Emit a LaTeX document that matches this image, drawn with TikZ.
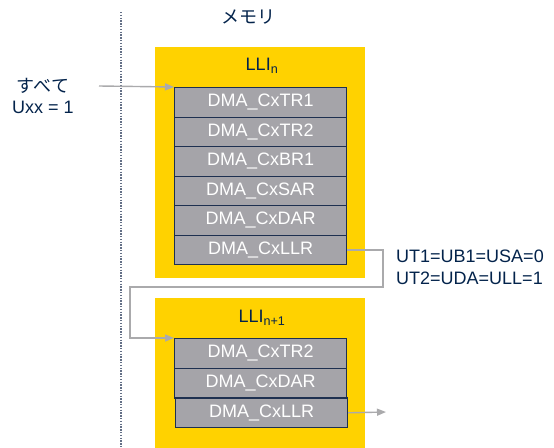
\documentclass[tikz,border=0pt]{standalone}
\usepackage{fontspec}
\setmainfont{Liberation Sans}
\newfontfamily\jpfont{Noto Sans CJK JP}
\usetikzlibrary{arrows.meta}
\definecolor{styellow}{RGB}{255,210,0}
\definecolor{reggray}{RGB}{165,164,169}
\definecolor{regedge}{RGB}{30,48,80}
\definecolor{navy}{RGB}{3,35,75}
\definecolor{linkgray}{RGB}{170,170,172}
\definecolor{sepgray}{RGB}{100,112,135}
\tikzset{
  lbl/.style={text=navy,font=\fontsize{18}{20}\selectfont,inner sep=0pt},
  jplbl/.style={text=navy,font=\fontsize{18}{20}\selectfont\jpfont,inner sep=0pt},
  lli/.style={fill=styellow,draw=none},
  reg/.style={fill=reggray,draw=regedge,line width=1.1pt,text=white,
    minimum width=172pt,minimum height=#1,inner sep=0pt,anchor=north west,
    font=\fontsize{18}{20}\selectfont},
  reg/.default=29.5pt,
  conn/.style={draw=linkgray,line width=1.4pt},
  tip/.style={-{Triangle[length=9pt,width=7pt]}},
}
\begin{document}
\begin{tikzpicture}[x=1pt,y=-1pt]
\useasboundingbox (0,0) rectangle (554,447);

% separator between processor side and memory
\draw[sepgray,line width=1.4pt,dash pattern=on 1.4pt off 1.4pt] (121,12) -- (121,447);
\node[jplbl] (mem) at (248,17) {メモリ};

% first linked-list item
\node[lli,minimum width=210pt,minimum height=231pt,anchor=north west,inner sep=0pt] (lliA) at (155,47) {};
\node[lbl] (lliAlbl) at (262,66) {LLI\textsubscript{n}};
\node[reg] (r1) at (174,87)    {DMA\_CxTR1};
\node[reg] (r2) at (174,116.5) {DMA\_CxTR2};
\node[reg] (r3) at (174,146)   {DMA\_CxBR1};
\node[reg] (r4) at (174,175.5) {DMA\_CxSAR};
\node[reg] (r5) at (174,205)   {DMA\_CxDAR};
\node[reg] (r6) at (174,234.5) {DMA\_CxLLR};

% second linked-list item
\node[lli,minimum width=210pt,minimum height=150pt,anchor=north west,inner sep=0pt] (lliB) at (155,298) {};
\node[lbl] (lliBlbl) at (262,318) {LLI\textsubscript{n+1}};
\node[reg=29.7pt] (s1) at (174,338)   {DMA\_CxTR2};
\node[reg=29.7pt] (s2) at (174,367.7) {DMA\_CxDAR};
\node[reg=29.7pt] (s3) at (175,397.4) {DMA\_CxLLR};

% initial update flags
\node[jplbl] (all) at (43,86) {すべて};
\node[lbl] (uxx) at (43,107) {Uxx = 1};

% update flags for the next item
\node[lbl,anchor=west] (flags1) at (396,256) {UT1=UB1=USA=0};
\node[lbl,anchor=west] (flags2) at (396,278) {UT2=UDA=ULL=1};

% links
\coordinate (inStart) at (99,86);
\draw[conn,tip] (inStart) -- (r1.north west);

\coordinate (bendA) at (383,287);
\coordinate (bendB) at (130,287);
\draw[conn,tip] (r6.east) -| (bendA) -- (bendB) |- (s1.north west);

\coordinate (outEnd) at (386,412);
\draw[conn,tip] (s3.east) -- (outEnd);
\end{tikzpicture}
\end{document}
